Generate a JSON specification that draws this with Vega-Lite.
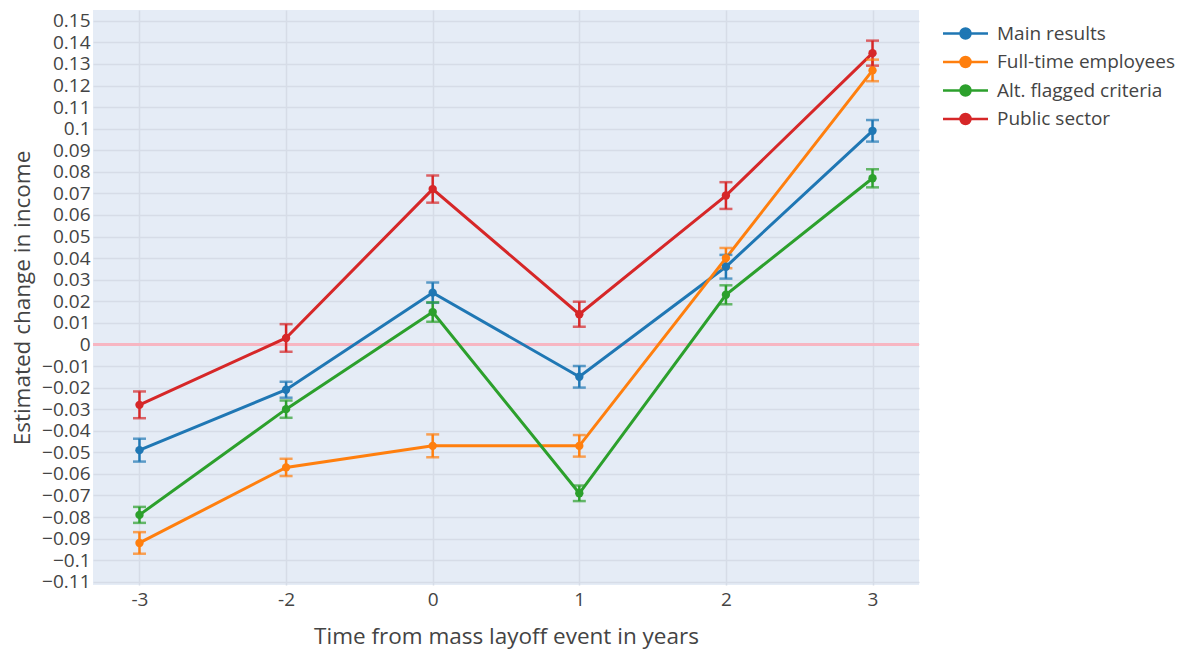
{
  "$schema": "https://vega.github.io/schema/vega-lite/v6.json",
  "width": 826,
  "height": 575,
  "autosize": {"type": "none"},
  "padding": {"left": 93, "top": 10, "right": 272, "bottom": 67},
  "background": "white",
  "config": {
    "font": "Open Sans",
    "view": {"fill": "#e5ecf6", "stroke": null},
    "axis": {
      "labelFont": "Open Sans",
      "titleFont": "Open Sans",
      "labelColor": "#444444",
      "titleColor": "#444444",
      "titleFontWeight": "normal",
      "gridColor": "#d6dce7",
      "gridWidth": 1.5,
      "domain": false,
      "ticks": false,
      "tickSize": 0
    },
    "legend": {"labelFont": "Open Sans", "labelColor": "#444444"}
  },
  "data": {
    "values": [
      {"t": "-3", "series": "Main results", "est": -0.049, "lo": -0.0543, "hi": -0.0437},
      {"t": "-2", "series": "Main results", "est": -0.021, "lo": -0.0247, "hi": -0.0173},
      {"t": "0", "series": "Main results", "est": 0.024, "lo": 0.0193, "hi": 0.0287},
      {"t": "1", "series": "Main results", "est": -0.015, "lo": -0.02, "hi": -0.01},
      {"t": "2", "series": "Main results", "est": 0.036, "lo": 0.0305, "hi": 0.0415},
      {"t": "3", "series": "Main results", "est": 0.099, "lo": 0.094, "hi": 0.104},
      {"t": "-3", "series": "Full-time employees", "est": -0.092, "lo": -0.097, "hi": -0.087},
      {"t": "-2", "series": "Full-time employees", "est": -0.057, "lo": -0.061, "hi": -0.053},
      {"t": "0", "series": "Full-time employees", "est": -0.047, "lo": -0.0523, "hi": -0.0417},
      {"t": "1", "series": "Full-time employees", "est": -0.047, "lo": -0.052, "hi": -0.042},
      {"t": "2", "series": "Full-time employees", "est": 0.04, "lo": 0.0353, "hi": 0.0447},
      {"t": "3", "series": "Full-time employees", "est": 0.127, "lo": 0.122, "hi": 0.132},
      {"t": "-3", "series": "Alt. flagged criteria", "est": -0.079, "lo": -0.0827, "hi": -0.0753},
      {"t": "-2", "series": "Alt. flagged criteria", "est": -0.03, "lo": -0.034, "hi": -0.026},
      {"t": "0", "series": "Alt. flagged criteria", "est": 0.015, "lo": 0.0105, "hi": 0.0195},
      {"t": "1", "series": "Alt. flagged criteria", "est": -0.069, "lo": -0.0726, "hi": -0.0654},
      {"t": "2", "series": "Alt. flagged criteria", "est": 0.023, "lo": 0.0186, "hi": 0.0274},
      {"t": "3", "series": "Alt. flagged criteria", "est": 0.077, "lo": 0.0728, "hi": 0.0812},
      {"t": "-3", "series": "Public sector", "est": -0.028, "lo": -0.0342, "hi": -0.0218},
      {"t": "-2", "series": "Public sector", "est": 0.003, "lo": -0.0034, "hi": 0.0094},
      {"t": "0", "series": "Public sector", "est": 0.072, "lo": 0.0657, "hi": 0.0783},
      {"t": "1", "series": "Public sector", "est": 0.014, "lo": 0.0082, "hi": 0.0198},
      {"t": "2", "series": "Public sector", "est": 0.069, "lo": 0.0628, "hi": 0.0752},
      {"t": "3", "series": "Public sector", "est": 0.135, "lo": 0.1292, "hi": 0.1408}
    ]
  },
  "encoding": {
    "x": {
      "field": "t",
      "type": "ordinal",
      "sort": ["-3", "-2", "0", "1", "2", "3"],
      "scale": {"type": "point", "padding": 0.317},
      "axis": {
        "title": "Time from mass layoff event in years",
        "labelAngle": 0,
        "labelFontSize": 19,
        "labelPadding": 5,
        "titleFontSize": 22.5,
        "titleX": 413,
        "titleY": 51,
        "titleBaseline": "middle",
        "titleAlign": "center",
        "grid": true
      }
    },
    "color": {
      "field": "series",
      "type": "nominal",
      "scale": {
        "domain": ["Main results", "Full-time employees", "Alt. flagged criteria", "Public sector"],
        "range": ["#1f77b4", "#ff7f0e", "#2ca02c", "#d62728"]
      },
      "legend": {
        "title": null,
        "orient": "none",
        "legendX": 861,
        "legendY": 12,
        "padding": 0,
        "labelFontSize": 19,
        "labelLimit": 400,
        "labelOffset": 20,
        "rowPadding": 6.5,
        "symbolSize": 400,
        "symbolStrokeWidth": 2.5,
        "symbolType": "M-2.25,0H2.25M-0.5,0A0.5,0.5,0,1,1,0.5,0A0.5,0.5,0,1,1,-0.5,0Z",
        "symbolOpacity": 1,
        "encode": {
          "symbols": {
            "update": {
              "stroke": {"scale": "color", "field": "value"},
              "fill": {"scale": "color", "field": "value"}
            }
          }
        }
      }
    }
  },
  "layer": [
    {
      "mark": {"type": "rule", "color": "#f7b6c2", "strokeWidth": 2},
      "encoding": {"y": {"datum": 0}, "color": {"value": "#f7b6c2"}, "x": {"value": 0}, "x2": {"value": 826}}
    },
    {
      "mark": {"type": "line", "strokeWidth": 3},
      "encoding": {
        "y": {
          "field": "est",
          "type": "quantitative",
          "scale": {"domain": [-0.1115, 0.155], "nice": false, "zero": false},
          "axis": {
            "title": "Estimated change in income",
            "values": [-0.11, -0.1, -0.09, -0.08, -0.07, -0.06, -0.05, -0.04, -0.03, -0.02, -0.01, 0, 0.01, 0.02, 0.03, 0.04, 0.05, 0.06, 0.07, 0.08, 0.09, 0.1, 0.11, 0.12, 0.13, 0.14, 0.15],
            "tickCount": 100,
            "format": ".2~f",
            "labelFontSize": 19,
            "labelPadding": 3,
            "labelOverlap": false,
            "labelBound": false,
            "labelFlush": false,
            "titleFontSize": 22.5,
            "titleX": -71,
            "titleY": 287.5,
            "titleAngle": -90,
            "titleAlign": "center",
            "titleBaseline": "middle",
            "grid": true
          }
        }
      }
    },
    {
      "mark": {"type": "rule", "strokeWidth": 2.5},
      "encoding": {"y": {"field": "lo", "type": "quantitative"}, "y2": {"field": "hi"}}
    },
    {
      "mark": {"type": "tick", "size": 13, "thickness": 2.5, "orient": "horizontal"},
      "encoding": {"y": {"field": "lo", "type": "quantitative"}}
    },
    {
      "mark": {"type": "tick", "size": 13, "thickness": 2.5, "orient": "horizontal"},
      "encoding": {"y": {"field": "hi", "type": "quantitative"}}
    },
    {
      "mark": {"type": "point", "filled": true, "shape": "circle", "size": 70, "opacity": 1},
      "encoding": {"y": {"field": "est", "type": "quantitative"}}
    }
  ]
}
